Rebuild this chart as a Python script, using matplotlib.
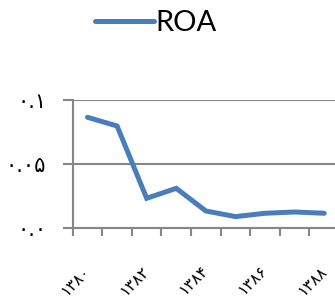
import matplotlib
matplotlib.use("Agg")
import matplotlib.pyplot as plt
import matplotlib.transforms as mtransforms
import numpy as np

# ROA by year (Persian calendar)
years = ["۱۳۸۰", "۱۳۸۱", "۱۳۸۲", "۱۳۸۳", "۱۳۸۴", "۱۳۸۵", "۱۳۸۶", "۱۳۸۷", "۱۳۸۸"]
roa = [0.0865, 0.0797, 0.0232, 0.031, 0.0133, 0.0089, 0.0115, 0.0125, 0.0115]
ytick_vals = [0.0, 0.05, 0.1]
ytick_labels = ["۰.۰", "۰.۰۵", "۰.۱"]

blue = "#4A7EBB"
grey = "#868686"

fig = plt.figure(figsize=(3.35, 2.99), dpi=100)
ax = fig.add_axes([0.217, 0.2375, 0.795, 0.428])

x = np.arange(len(years))
line, = ax.plot(x, roa, color=blue, lw=3.6, solid_capstyle="round",
                solid_joinstyle="miter", label="ROA")

ax.set_xlim(-0.5, len(years) - 0.5)
ax.set_ylim(0, 0.1)

for s in ["top", "right"]:
    ax.spines[s].set_visible(False)
for s in ["left", "bottom"]:
    ax.spines[s].set_color(grey)
    ax.spines[s].set_linewidth(1.5)

ax.set_yticks(ytick_vals)
ax.set_yticklabels(ytick_labels, fontsize=15, family=["DejaVu Sans"])
ax.tick_params(axis="y", length=7, width=1.5, color=grey, pad=12)
ax.yaxis.grid(True, color=grey, lw=1.5)
ax.set_axisbelow(True)

ax.set_xticks(x[::2])
ax.set_xticklabels(years[::2], fontsize=11.5, family=["DejaVu Sans"],
                   rotation=45, ha="right", va="top", rotation_mode="anchor")
ax.tick_params(axis="x", which="major", length=0, pad=25)
ax.set_xticks(np.arange(-0.5, len(years)), minor=True)
ax.tick_params(axis="x", which="minor", length=6, width=1.5, color=grey)
shift = mtransforms.ScaledTranslation(-5 / 100, 0, fig.dpi_scale_trans)
for lab in ax.get_xticklabels():
    lab.set_transform(lab.get_transform() + shift)

fig.legend(handles=[line], loc="center", bbox_to_anchor=(0.465, 0.922),
           frameon=False, prop={"family": "Lato", "size": 21},
           handlelength=2.0, handletextpad=0.05)

fig.savefig("out.png", dpi=100)
